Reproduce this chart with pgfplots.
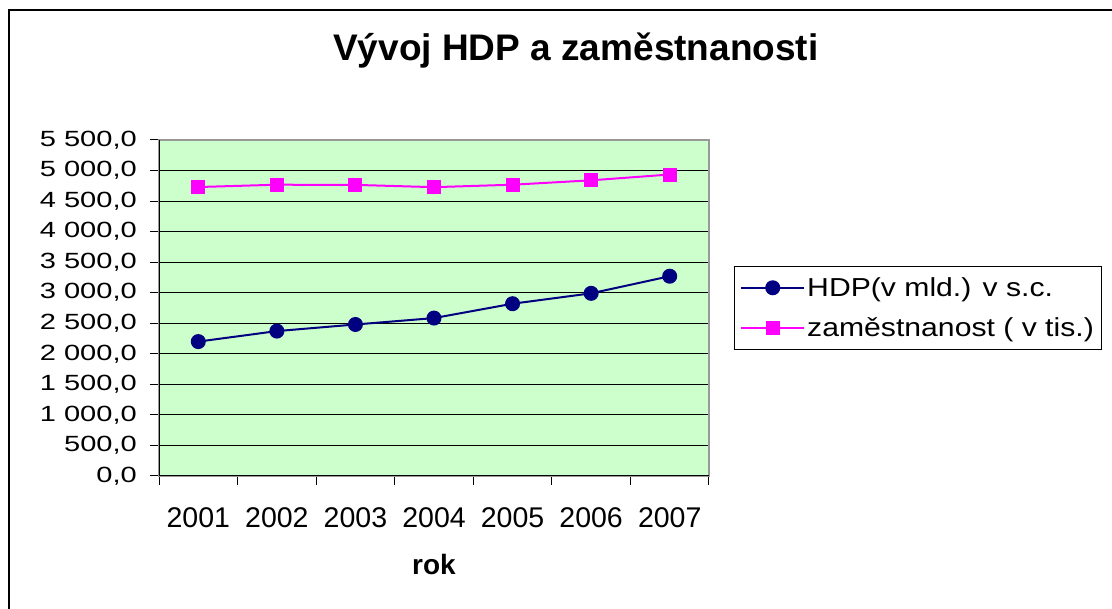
\documentclass[border=0pt]{standalone}
\usepackage{fontspec}
\setmainfont{Liberation Sans}
\newfontfamily\ylabfont[FakeStretch=1.32]{Liberation Sans}
\newfontfamily\legfont[FakeStretch=1.16]{Liberation Sans}
\usepackage{pgfplots}
\pgfplotsset{compat=1.18}
\definecolor{bggreen}{HTML}{CCFFCC}
\definecolor{hdp}{HTML}{000080}
\definecolor{zam}{HTML}{FF00FF}
\begin{document}
\begin{tikzpicture}[x=1pt,y=1pt]
\path[use as bounding box] (0,0) rectangle (1112,609);
\draw[black, line width=2pt] (9,0) -- (9,599) -- (1112,599);
\begin{axis}[
  at={(159pt,133pt)}, anchor=south west,
  scale only axis, width=550pt, height=336pt,
  xmin=-0.5, xmax=6.5, ymin=0, ymax=5500,
  xtick={-0.5,0.5,...,6.5},
  xticklabels={2001,2002,2003,2004,2005,2006,2007,{}},
  xticklabel style={font=\fontsize{28.5}{33}\selectfont, anchor=base, xshift=39.3pt, yshift=-43pt},
  ytick={0,500,...,5500},
  yticklabel style={font=\ylabfont\fontsize{22}{26}\selectfont, anchor=east, inner sep=0pt, xshift=-13pt},
  /pgf/number format/.cd, fixed, fixed zerofill, precision=1, use comma, 1000 sep={\ }, assume math mode=true,
  /pgfplots/.cd,
  tick align=outside, tick pos=left, major tick length=9pt,
  tick style={black, line width=1pt},
  ymajorgrids, major grid style={black, line width=1pt},
  axis line style={draw=gray!80, line width=1.5pt},
  axis background/.style={fill=bggreen},
  title={\bfseries Vývoj HDP a zaměstnanosti},
  title style={font=\fontsize{37}{44}\selectfont, at={(0.758,1.247)}, anchor=center},
  xlabel={\bfseries rok},
  xlabel style={font=\fontsize{28}{33}\selectfont, at={(0.5,-0.262)}, anchor=center},
  legend style={at={(1.045,0.5)}, anchor=west, draw=black, line width=1pt,
    font=\legfont\fontsize{26}{31}\selectfont, row sep=16pt, inner xsep=6pt, inner ysep=9pt,
    cells={anchor=west}},
  legend image code/.code={\draw[mark repeat=2,mark phase=2,#1] plot coordinates {(0pt,0pt) (31.5pt,0pt) (63pt,0pt)};},
]
\addplot[hdp, line width=2pt, mark=*, mark size=6.5pt, mark options={fill=hdp, draw=hdp}]
  coordinates {(0,2200) (1,2372) (2,2480) (3,2585) (4,2820) (5,2990) (6,3270)};
\addlegendentry{HDP(v mld.) v s.c.}
\addplot[zam, line width=2pt, mark=square*, mark size=6pt, mark options={fill=zam, draw=zam}]
  coordinates {(0,4730) (1,4768) (2,4765) (3,4728) (4,4768) (5,4840) (6,4935)};
\addlegendentry{zaměstnanost ( v tis.)}
\draw[black, line width=1.5pt] (rel axis cs:0,1) -- (rel axis cs:0,0) -- (rel axis cs:1,0);
\end{axis}
\end{tikzpicture}
\end{document}
